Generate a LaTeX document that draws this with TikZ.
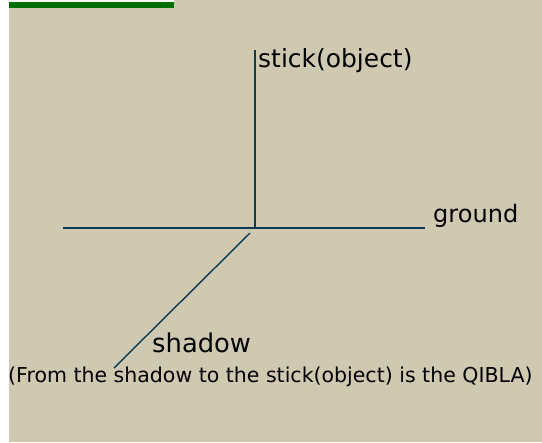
\documentclass[tikz,border=0pt]{standalone}
\usepackage{fontspec}
\setmainfont{DejaVu Sans}
\usepackage{xcolor}
\usetikzlibrary{positioning}
\definecolor{sand}{RGB}{207,201,178}
\definecolor{inkline}{RGB}{12,58,80}
\definecolor{bargreen}{RGB}{0,110,0}
\tikzset{
  label text/.style={anchor=base west, inner sep=0pt, text=black},
  main line/.style={draw=inkline, line width=1.6pt},
  shadow line/.style={draw=inkline, line width=1.2pt},
}

\begin{document}
\begin{tikzpicture}[x=0.03cm, y=-0.03cm]
  \useasboundingbox (0,0) rectangle (542,442);

  % Fondo
  \fill[sand] (9,0) rectangle (542,442);
  \fill[white] (9,0) rectangle (174,2);
  \fill[bargreen] (9,2) rectangle (174,8);

  % Puntos de las lineas
  \coordinate (stickTop)   at (255,50);
  \coordinate (stickBase)  at (255,228);
  \coordinate (groundW)    at (63,228);
  \coordinate (groundE)    at (425,228);
  \coordinate (shadowTop)  at (250,233);
  \coordinate (shadowTip)  at (114,368);

  % Etiquetas
  \node[label text, font=\fontsize{21.3}{24}\selectfont] (stick)  at (258,67)  {stick(object)};
  \node[label text, font=\fontsize{20.5}{23}\selectfont] (ground) at (433,222) {ground};
  \node[label text, font=\fontsize{22}{25}\selectfont]   (shadow) at (152,352) {shadow};
  \node[label text, font=\fontsize{17.5}{20}\selectfont] (qibla)  at (8,382)
    {(From the shadow to the stick(object) is the QIBLA)};

  % Palo y suelo
  \draw[main line] (stickTop) -- (stickBase);
  \draw[main line] (groundW) -- (groundE);

  % Sombra
  \draw[shadow line] (shadowTop) -- (shadowTip);
\end{tikzpicture}
\end{document}
